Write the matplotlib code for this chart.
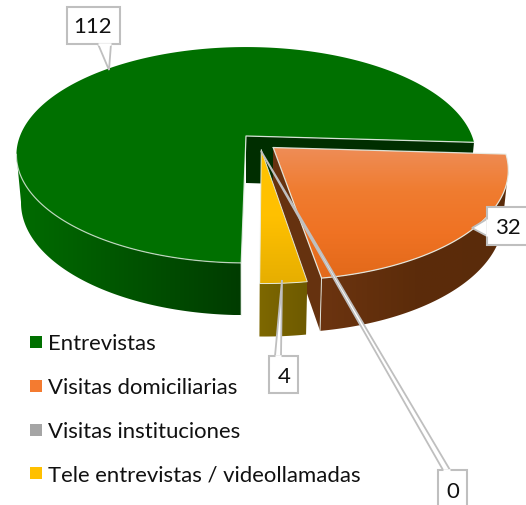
import numpy as np
import matplotlib

matplotlib.use("Agg")
import matplotlib.pyplot as plt
from matplotlib.colors import LinearSegmentedColormap
from matplotlib.patches import Polygon, Rectangle

categories = ["Entrevistas", "Visitas domiciliarias", "Visitas instituciones",
              "Tele entrevistas / videollamadas"]
values = [112, 32, 0, 4]
value_labels = ["112", "32", "0", "4"]
legend_colors = ["#007000", "#F47B30", "#A5A5A5", "#FFC000"]

W, H = 526, 506
CX, CY = 246, 137
A, B, K = 104.6, 226, 0.176
DEPTH = 47
START = 1.0
EDGE = "#E8EFE8"
BOX = "#BFBFBF"


def project(theta, off=(0, 0), drop=False):
    t = np.radians(theta)
    u = -np.sin(t) + off[0]
    v = np.cos(t) + off[1]
    return place(u, v, drop)


def place(u, v, drop=False):
    w = 1 - K * v
    x = B * u / w
    y = CY + A * v / w
    if drop:
        y = y + DEPTH / (1 - 0.1 * v)
        x = x * 0.98
    return np.column_stack([CX + x, y])


def apex(off, drop=False):
    return place(np.array([off[0]]), np.array([off[1]]), drop)


def gradient(ax, pts, colors, vertical=True, z=1):
    cmap = LinearSegmentedColormap.from_list("g", colors)
    ramp = np.linspace(0, 1, 256)
    ramp = ramp[:, None] if vertical else ramp[None, :]
    x0, y0 = pts.min(axis=0)
    x1, y1 = pts.max(axis=0)
    im = ax.imshow(ramp, cmap=cmap, extent=[x0, x1, y1, y0], aspect="auto",
                   zorder=z, interpolation="bilinear")
    patch = Polygon(pts, closed=True, transform=ax.transData, fc="none", ec="none")
    ax.add_patch(patch)
    im.set_clip_path(patch)


def edge(ax, pts, z, color=EDGE, lw=0.9, alpha=0.9):
    ax.plot(pts[:, 0], pts[:, 1], color=color, lw=lw, alpha=alpha, zorder=z,
            solid_capstyle="round")


def callout(ax, box, pointer, text, text_xy):
    x0, y0, x1, y1 = box
    ax.add_patch(Rectangle((x0, y0), x1 - x0, y1 - y0, fc="white", ec=BOX, lw=1.5,
                           zorder=20, clip_on=True))
    ax.add_patch(Polygon(pointer, closed=True, fc="white", ec=BOX, lw=1.3, zorder=21,
                         joinstyle="miter"))
    # hide the join between the box and its pointer
    base = np.array([pointer[0], pointer[-1]])
    ax.plot(base[:, 0], base[:, 1], color="white", lw=1.8, zorder=22,
            solid_capstyle="butt")
    ax.text(*text_xy, text, ha="center", va="center", fontsize=16, color="#111111",
            family="Lato", zorder=23)


def main():
    fig = plt.figure(figsize=(W / 100, H / 100), dpi=100)
    ax = fig.add_axes([0, 0, 1, 1])
    ax.axis("off")

    sweep = np.array(values) / sum(values) * 360
    a0 = START
    a1 = a0 + sweep[0]
    a2 = a1 + sweep[1]
    a3 = a2 + sweep[2]
    a4 = a3 + sweep[3]

    off_orange = (0.118, 0.108)
    off_yellow = (0.066, 0.13)

    # Entrevistas
    th = np.linspace(a0, a1, 300)
    top = project(th)
    bot = project(th, drop=True)
    left = np.argmin(top[:, 0])
    left_b = np.argmin(bot[:, 0])
    gradient(ax, np.vstack([top[:left + 1], bot[:left_b + 1][::-1]]),
             ["#006C00", "#005C00", "#004C00", "#003C00"], vertical=False, z=1)
    corner, corner_b = apex((0, 0)), apex((0, 0), True)
    wall = np.vstack([corner, top[-1:], bot[-1:], corner_b])
    ax.add_patch(Polygon(wall, closed=True, fc="#002E00", ec="none", zorder=2))
    face = np.vstack([corner, top])
    ax.add_patch(Polygon(face, closed=True, fc="#007000", ec="none", zorder=3))
    edge(ax, top[:left + 1], 4, lw=0.9, alpha=0.75)
    edge(ax, np.vstack([top[-1:], corner, top[:1], bot[:1]]), 4)

    # Visitas domiciliarias
    th = np.linspace(a1, a2, 120)
    top = project(th, off_orange)
    bot = project(th, off_orange, True)
    right = np.argmax(top[:, 0])
    right_b = np.argmax(bot[:, 0])
    gradient(ax, np.vstack([top[right:], bot[right_b:][::-1]]),
             ["#6C3410", "#5C2C0A", "#5A2B0A"], vertical=False, z=5)
    c, c_b = apex(off_orange), apex(off_orange, True)
    ax.add_patch(Polygon(np.vstack([c, top[-1:], bot[-1:], c_b]), closed=True,
                         fc="#66320F", ec="none", zorder=6))
    gradient(ax, np.vstack([c, top]), ["#EE8D57", "#F07C30", "#EF7223", "#E2691A"], z=7)
    edge(ax, np.vstack([c, top, c]), 8)
    edge(ax, np.vstack([top[-1:], bot[-1:]]), 8, lw=0.7)

    # Tele entrevistas / videollamadas
    th = np.linspace(a3, a4, 40)
    top = project(th, off_yellow)
    bot = project(th, off_yellow, True)
    gradient(ax, np.vstack([top, bot[::-1]]), ["#7E6800", "#6E5A00"], vertical=False, z=9)
    c = apex(off_yellow)
    gradient(ax, np.vstack([c, top]), ["#FFC400", "#FFC000", "#E6AE00"], z=10)
    edge(ax, np.vstack([c, top, c]), 11, lw=0.7)

    callout(ax, (67, 8, 120, 45), [(98, 45), (109, 71), (111, 45)], value_labels[0], (93, 27))
    callout(ax, (487, 208, 532, 246), [(487, 220), (472, 229), (487, 237)], value_labels[1], (508, 228))
    callout(ax, (269, 357, 298, 394), [(275, 357), (282, 281), (281, 357)], value_labels[3], (284, 377))
    callout(ax, (438, 471, 467, 512), [(443, 471), (261, 152), (450, 471)], value_labels[2], (453, 492))

    for i, (name, col) in enumerate(zip(categories, legend_colors)):
        y = 343 + i * 43.8
        ax.add_patch(Rectangle((30, y - 6), 12, 12, fc=col, ec="none", zorder=12))
        ax.text(48, y + 1, name, ha="left", va="center", fontsize=15.9, color="#111111",
                family="Lato", zorder=12)

    ax.set_xlim(0, W)
    ax.set_ylim(H, 0)
    fig.savefig("out.png", dpi=100)


if __name__ == "__main__":
    main()
